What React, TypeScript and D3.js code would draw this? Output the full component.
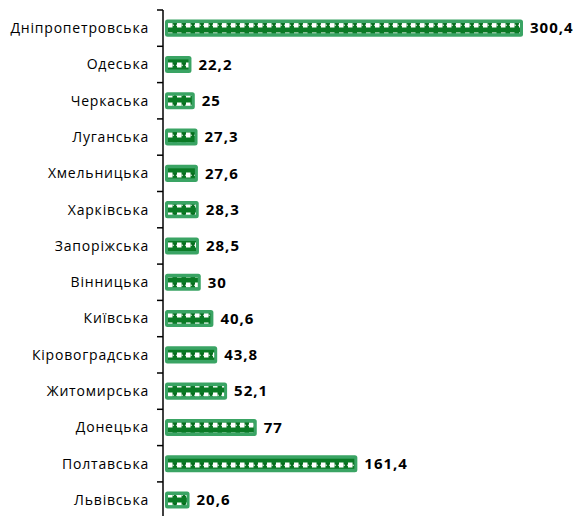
import React from "react";
import * as d3 from "d3";

const regions = [
  "Дніпропетровська", "Одеська", "Черкаська", "Луганська", "Хмельницька",
  "Харківська", "Запоріжська", "Вінницька", "Київська", "Кіровоградська",
  "Житомирська", "Донецька", "Полтавська", "Львівська",
];
const values = [300.4, 22.2, 25, 27.3, 27.6, 28.3, 28.5, 30, 40.6, 43.8, 52.1, 77, 161.4, 20.6];
const valueLabels = ["300,4", "22,2", "25", "27,3", "27,6", "28,3", "28,5", "30", "40,6", "43,8", "52,1", "77", "161,4", "20,6"];

const W = 580;
const H = 516;
const axisX = 163;
const top = 10;
const bandH = 36.3;

export default function App() {
  const y = d3.scaleBand<string>()
    .domain(regions)
    .range([top, top + bandH * regions.length])
    .paddingInner(0.53)
    .paddingOuter(0.265);
  const x = d3.scaleLinear().domain([0, 300.4]).range([axisX + 2, 523]);
  const ticks = d3.range(regions.length + 1).map(i => top + i * bandH);

  return (
    <svg width={W} height={H} style={{ position: "absolute", left: 0, top: 0, background: "#fff" }}
      fontFamily="'Open Sans', sans-serif">
      <defs>
        <pattern id="dots" width="9" height="10" patternUnits="userSpaceOnUse" x={axisX + 5} y="0">
          <rect width="9" height="10" fill="#0a7a25" />
          <rect x="0" y="2.5" width="4.5" height="5" fill="#ffffff" />
          <rect x="4.5" y="4.5" width="4.5" height="1.2" fill="#ffffff" />
          <path d="M5,3.6 a1.1,1.1 0 0 1 2,0 a1.1,1.1 0 0 1 2,0 L7,7.5 Z" fill="#056a1c" />
        </pattern>
      </defs>
      {regions.map((r, i) => {
        const by = y(r)!;
        const bh = y.bandwidth();
        const x0 = x(0);
        const x1 = x(values[i]);
        return (
          <g key={r}>
            <rect x={x0} y={by} width={x1 - x0} height={bh} rx={2.5} fill="#3aa464" />
            <rect x={x0 + 3} y={by + 3.5} width={Math.max(0, x1 - x0 - 6)} height={bh - 7}
              fill="url(#dots)" />
            <text x={149} y={by + bh / 2} dy="0.35em" textAnchor="end" fontSize={14}
              letterSpacing={0.8} fill="#000">{r}</text>
            <text x={x1 + 7} y={by + bh / 2} dy="0.35em" fontSize={15} fontWeight="bold"
              letterSpacing={1} fill="#000">
              {valueLabels[i]}
            </text>
          </g>
        );
      })}
      <line x1={axisX} x2={axisX} y1={top} y2={H} stroke="#000" strokeWidth={1.5} />
      {ticks.map((t, i) => (
        <line key={i} x1={axisX - 6} x2={axisX} y1={t} y2={t} stroke="#000" strokeWidth={1.5} />
      ))}
    </svg>
  );
}
